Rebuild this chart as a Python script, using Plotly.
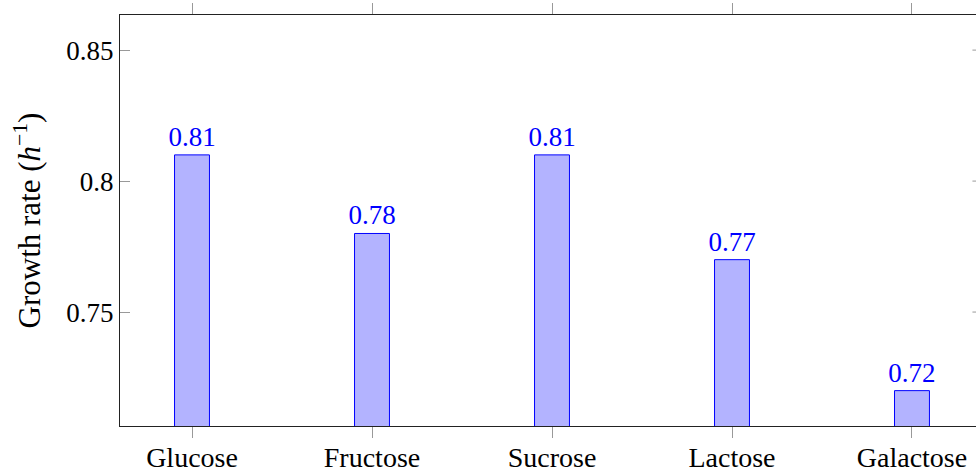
import plotly.graph_objects as go

categories = ["Glucose", "Fructose", "Sucrose", "Lactose", "Galactose"]
growth_rates = [0.81, 0.78, 0.81, 0.77, 0.72]
y_tick_vals = [0.75, 0.8, 0.85]
y_tick_text = ["0.75", "0.8", "0.85"]

FONT = "Liberation Serif"
fig = go.Figure()
fig.add_trace(go.Bar(
    x=list(range(len(categories))),
    y=growth_rates,
    width=0.194,
    marker=dict(color="#b3b3ff", line=dict(color="#0000ff", width=1)),
    text=[f"{v:.2f}" for v in growth_rates],
    textposition="outside",
    constraintext="none",
    textfont=dict(family=FONT, size=27, color="#0000ff"),
    cliponaxis=False,
))

fig.update_layout(
    width=978, height=473,
    margin=dict(l=120, r=0, t=15, b=47, autoexpand=False),
    plot_bgcolor="white", paper_bgcolor="white",
    showlegend=False,
    font=dict(family=FONT, size=26, color="black"),
    xaxis=dict(
        range=[-0.4, 4.3667],
        tickvals=list(range(len(categories))),
        ticktext=categories,
        ticks="outside", ticklen=11, tickcolor="#999999", tickwidth=1,
        showline=True, linecolor="#222222", linewidth=1, mirror="ticks",
        showgrid=False, zeroline=False, automargin=False,
        ticklabelstandoff=-5,
        tickfont=dict(family=FONT, size=28),
    ),
    yaxis=dict(
        range=[0.7065, 0.8634],
        tickvals=y_tick_vals,
        ticktext=y_tick_text,
        ticks="inside", ticklen=10, tickcolor="#999999", tickwidth=1,
        showline=True, linecolor="#222222", linewidth=1, mirror=False,
        showgrid=False, zeroline=False, automargin=False,
        tickfont=dict(family=FONT, size=27),
        title=dict(text="Growth rate (<i>h</i><sup>−1</sup>)", font=dict(family=FONT, size=31), standoff=16),
    ),
)

# right-side mirrored y ticks (partially visible at the right edge)
for v in y_tick_vals:
    fig.add_shape(type="line", xref="paper", yref="y", x0=0.9935, x1=1.0, y0=v, y1=v,
                  line=dict(color="#999999", width=1), layer="above")

fig.write_html("out.html",
               config={"displayModeBar": False},
               post_script="document.body.style.margin='0';document.body.style.overflow='hidden';")
